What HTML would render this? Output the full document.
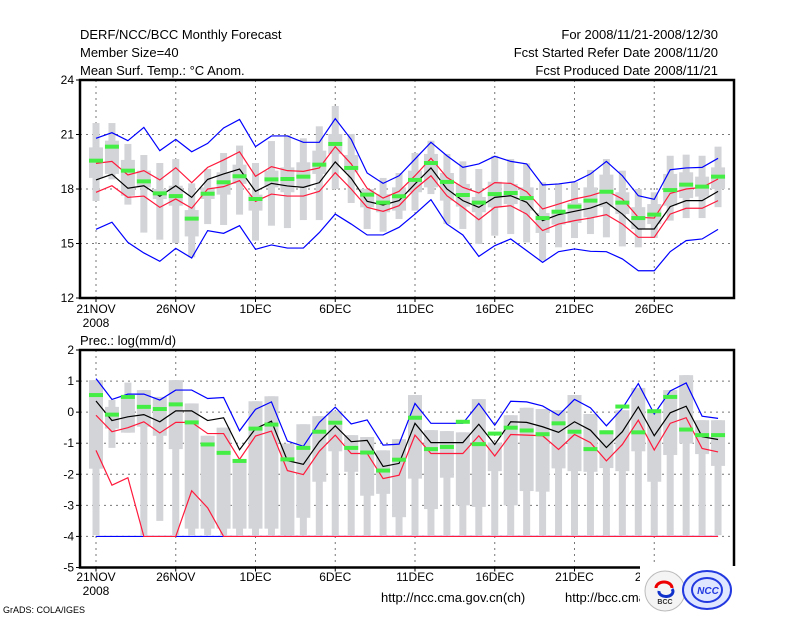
<!DOCTYPE html>
<html><head><meta charset="utf-8"><style>
body{margin:0;background:#fff;}
svg{display:block;font-family:"Liberation Sans",sans-serif;}
</style></head><body>
<svg id="chart" width="800" height="618" viewBox="0 0 800 618">
<g font-size="13" fill="#000">
<text x="80" y="39">DERF/NCC/BCC Monthly Forecast</text>
<text x="80" y="57">Member Size=40</text>
<text x="80" y="75">Mean Surf. Temp.: °C Anom.</text>
<text x="718" y="39" text-anchor="end">For 2008/11/21-2008/12/30</text>
<text x="718" y="57" text-anchor="end">Fcst Started Refer Date 2008/11/20</text>
<text x="718" y="75" text-anchor="end">Fcst Produced Date 2008/11/21</text>
<text x="80" y="345">Prec.: log(mm/d)</text>
</g>
<g id="plots"></g>
<g>
<text x="381" y="602" font-size="13">http://ncc.cma.gov.cn(ch)</text>
<text x="565" y="602" font-size="13">http://bcc.cma.gov.cn</text>
<text x="3" y="613" font-size="9">GrADS: COLA/IGES</text>
<rect x="640" y="566" width="100" height="52" fill="#fff"/>
<g>
<circle cx="665" cy="591" r="20" fill="#f4f4f4" stroke="#bbb"/>
<path d="M656 588 a8 6 0 1 1 16 0" fill="none" stroke="#e00" stroke-width="3"/>
<path d="M659 591 a7 5 0 1 0 13 -2" fill="none" stroke="#13c" stroke-width="3"/>
<text x="665" y="604" font-size="7" font-weight="bold" text-anchor="middle" fill="#333">BCC</text>
</g>
<g>
<ellipse cx="707" cy="590" rx="24" ry="19" fill="#dfe6ff" stroke="#2239e0" stroke-width="2"/>
<ellipse cx="707" cy="590" rx="15" ry="12" fill="none" stroke="#2239e0" stroke-width="2"/>
<text x="708" y="594" font-size="10" font-style="italic" font-weight="bold" text-anchor="middle" fill="#2239e0">NCC</text>
</g>
</g>
</svg>
<script>
// ---- Temperature panel data (°C anomaly), 40 days from 21 Nov ----
const days = ["21NOV","26NOV","1DEC","6DEC","11DEC","16DEC","21DEC","26DEC"];
const tBlueHi = [20.79,21.1,20.66,21.39,20.11,20.73,20.05,20.51,21.36,21.83,20.33,20.92,20.92,20.57,20.57,21.87,20.73,18.88,18.31,18.73,19.65,20.57,19.83,19.19,19.38,19.80,19.52,19.38,18.22,18.28,18.40,18.83,19.52,18.73,17.63,17.43,19.06,19.16,19.19,19.69];
const tRedHi = [19.41,19.52,18.77,19.01,18.50,19.17,18.35,19.19,19.60,20.05,18.70,19.23,19.01,18.97,19.16,20.33,19.38,18.04,17.50,17.87,18.73,19.69,18.64,18.09,17.78,18.35,18.31,17.85,16.90,17.17,17.45,17.63,17.91,17.45,16.44,16.40,17.76,18.0,18.09,18.55];
const tMean = [18.50,18.81,18.04,18.18,17.60,18.18,17.54,18.53,18.83,19.10,17.87,18.31,18.17,18.09,18.35,19.49,18.59,17.32,17.12,17.36,18.28,19.16,18.0,17.36,16.99,17.54,17.63,17.27,16.26,16.59,16.77,16.95,17.27,16.62,15.80,15.80,17.03,17.36,17.36,17.87];
const tRedLo = [17.82,18.18,17.54,17.61,16.99,17.45,16.94,18.0,18.13,18.46,17.32,17.72,17.61,17.61,17.87,18.90,18.0,16.99,16.77,17.08,18.0,18.73,17.63,16.99,16.31,16.99,17.08,16.62,15.71,16.07,16.26,16.40,16.59,16.07,15.34,15.34,16.62,16.94,16.94,17.36];
const tBlueLo = [15.78,16.17,15.06,14.48,14.02,14.73,14.20,15.71,15.56,15.98,14.68,14.92,14.75,14.75,15.60,16.62,16.07,15.47,15.47,15.89,16.62,17.41,16.07,15.47,14.29,14.88,15.25,14.61,13.96,14.55,14.70,14.57,14.55,14.15,13.50,13.50,14.55,15.16,15.25,15.78];
const tGreen = [19.56,20.33,19.01,18.42,17.76,17.61,16.37,17.74,18.37,18.70,17.45,18.53,18.55,18.68,19.34,20.48,19.16,17.69,17.25,17.60,18.50,19.43,18.39,17.67,17.25,17.72,17.78,17.50,16.40,16.75,17.03,17.36,17.85,17.25,16.40,16.59,17.94,18.24,18.13,18.68];
const tMax = [21.63,21.63,20.48,19.87,19.43,19.65,18.31,19.10,19.98,20.39,19.43,20.64,20.97,20.79,21.45,22.57,21.03,18.0,18.61,18.88,19.98,20.66,19.93,19.52,19.10,19.83,19.65,19.41,18.37,18.31,18.37,19.05,19.65,19.01,18.0,17.82,19.83,19.89,19.83,20.33];
const tMin = [17.34,18.53,17.14,15.60,15.21,15.03,14.24,16.07,16.02,16.59,15.16,15.98,15.85,16.29,16.29,18.0,17.23,15.80,15.65,16.35,16.81,17.72,16.07,15.80,14.97,15.43,15.52,15.06,14.06,14.79,15.30,15.52,15.34,14.84,14.79,15.30,16.26,16.40,16.40,17.0];
const tQ3 = [20.29,20.66,19.60,19.01,18.0,18.18,16.84,18.09,18.92,19.34,17.69,19.01,19.19,19.47,20.11,21.03,19.87,18.0,17.72,18.09,19.01,19.93,18.88,18.28,17.56,18.40,18.28,18.09,16.68,16.77,17.23,18.09,18.79,17.82,17.0,17.17,18.83,18.92,18.68,19.19];
const tQ1 = [18.61,18.83,17.63,18.09,17.45,17.08,15.39,17.45,17.69,18.28,16.81,18.09,17.82,18.09,18.83,19.93,18.92,16.99,16.72,16.81,17.82,18.09,17.36,17.03,16.72,16.99,17.17,16.81,15.58,16.04,16.13,16.44,17.0,16.62,15.8,16.07,17.08,17.50,17.58,18.0];
const tTicks = [12,15,18,21,24];
// ---- Precipitation panel data (log mm/d) ----
const pBlueHi = [1.08,0.41,0.58,0.58,0.39,0.71,0.71,0.44,0.47,-0.60,0.09,0.33,-0.93,-1.10,-0.33,0.16,-0.38,-0.25,-1.06,-1.03,0.28,-0.36,-0.36,-0.36,0.28,-0.42,0.35,0.33,0.20,-0.10,0.41,0.14,-0.44,0.12,0.92,-0.06,0.68,0.94,-0.13,-0.20];
const pRedHi = [-0.10,-0.63,-0.50,-0.31,-0.67,-0.33,-0.33,-0.69,-0.69,-1.52,-0.77,-0.61,-1.88,-2.01,-1.26,-0.74,-1.33,-1.33,-2.14,-2.03,-0.74,-1.33,-1.33,-1.33,-0.76,-1.41,-0.72,-0.74,-0.76,-1.20,-0.72,-0.98,-1.57,-1.04,-0.26,-1.22,-0.36,-0.18,-1.17,-1.28];
const pMean = [0.36,-0.27,-0.15,-0.08,-0.31,0.04,0.04,-0.27,-0.18,-1.21,-0.53,-0.29,-1.56,-1.68,-0.95,-0.44,-0.95,-0.91,-1.75,-1.65,-0.36,-0.98,-0.98,-0.98,-0.39,-1.04,-0.31,-0.33,-0.47,-0.65,-0.31,-0.58,-1.14,-0.63,0.17,-0.76,-0.02,0.19,-0.79,-0.88];
const pRedLo = [-1.23,-2.35,-2.11,-4,-4,-4,-2.53,-3.08,-4,-4,-4,-4,-4,-4,-4,-4,-4,-4,-4,-4,-4,-4,-4,-4,-4,-4,-4,-4,-4,-4,-4,-4,-4,-4,-4,-4,-4,-4,-4,-4];
const pBlueLo = [-4,-4,-4,-4,-4,-4,-4,-4,-4,-4,-4,-4,-4,-4,-4,-4,-4,-4,-4,-4,-4,-4,-4,-4,-4,-4,-4,-4,-4,-4,-4,-4,-4,-4,-4,-4,-4,-4,-4,-4];
const pGreen = [0.55,-0.08,0.49,0.17,0.10,0.25,-0.33,-1.04,-1.31,-1.57,-0.53,-0.40,-1.52,-1.15,-0.63,-0.34,-1.15,-1.30,-1.88,-1.53,-0.18,-1.19,-1.12,-0.31,-1.03,-0.69,-0.50,-0.59,-0.71,-0.36,-0.63,-1.19,-0.65,0.18,-0.65,0.03,0.49,-0.56,-0.74,-0.74];
const pMax = [1.03,0.39,0.95,0.71,0.49,1.03,0.28,-0.76,-0.50,-1.52,0.35,0.51,-1.01,-0.39,-0.13,0.03,-0.74,-0.80,-1.23,-0.87,0.55,-0.58,-0.61,-0.65,0.42,-0.98,-0.10,0.14,0.10,0.06,0.55,-0.06,-0.58,0.06,0.78,0.06,0.71,1.19,-0.26,-0.26];
const pMin = [-3.96,-1.15,-0.66,-3.96,-3.50,-3.96,-3.96,-3.96,-3.96,-3.96,-3.96,-3.96,-3.96,-3.96,-3.96,-3.96,-3.96,-3.96,-3.96,-3.96,-3.96,-3.96,-3.96,-3.96,-3.96,-3.96,-3.96,-3.96,-3.96,-3.96,-3.96,-3.96,-3.96,-3.96,-3.96,-3.96,-3.96,-3.96,-3.96,-3.96];
const pQ3 = [1.03,0.17,0.55,0.71,0.49,1.03,0.28,-0.76,-0.50,-1.52,0.35,0.51,-1.01,-0.39,-0.13,0.03,-0.74,-0.80,-1.23,-0.87,0.55,-0.58,-0.61,-0.65,0.42,-0.98,-0.10,0.14,0.10,0.06,0.55,-0.06,-0.58,0.06,0.78,0.06,0.71,1.19,-0.26,-0.26];
const pQ1 = [-1.82,-0.53,-0.66,-0.47,-0.76,-1.19,-3.75,-3.75,-3.75,-3.75,-3.75,-3.75,-3.96,-3.40,-2.24,-1.26,-1.92,-2.69,-2.63,-3.38,-2.14,-3.12,-2.11,-3.0,-3.05,-1.90,-3.0,-2.54,-2.56,-1.81,-1.90,-1.92,-1.8,-1.90,-1.26,-2.24,-1.38,-1.01,-1.35,-1.73];
const pTicks = [-5,-4,-3,-2,-1,0,1,2];

const NS='http://www.w3.org/2000/svg';
const root=document.getElementById('plots');
const X0=80, X1=734, DAY0=96, DX=15.95;
function xOf(d){return DAY0+d*DX;}
function mk(tag,attrs,parent){const e=document.createElementNS(NS,tag);for(const k in attrs)e.setAttribute(k,attrs[k]);(parent||root).appendChild(e);return e;}

function panel(name,top,bot,vmin,vmax,ticks,s,dateY,yearLabel){
  const g=mk('g',{});
  
  
  const yOf=v=>bot-(v-vmin)/(vmax-vmin)*(bot-top);
  // gridlines
  ticks.forEach(t=>{
    if(t===vmin||t===vmax) return;
    const l=mk('line',{x1:X0,x2:X1,y1:yOf(t),y2:yOf(t),stroke:'#777','stroke-dasharray':'2,4','stroke-width':1},g);
    
    
  });
  days.forEach((lab,i)=>{
    const x=xOf(i*5);
    const l=mk('line',{x1:x,x2:x,y1:top,y2:bot,stroke:'#777','stroke-dasharray':'2,4','stroke-width':1},g);
    
    
    const t=mk('text',{x:x,y:dateY,'font-size':12,'text-anchor':'middle'},g);
    t.textContent=lab;
    
    
    const tk=mk('line',{x1:x,x2:x,y1:bot,y2:bot+4,stroke:'#000'},g);
    
    
  });
  if(yearLabel){
    const t=mk('text',{x:xOf(0),y:dateY+14,'font-size':12,'text-anchor':'middle'},g);
    t.textContent=yearLabel;
    
    
  }
  ticks.forEach(t=>{
    const l=mk('text',{x:74,y:yOf(t)+4,'font-size':12,'text-anchor':'end'},g);
    l.textContent=t;
    
    
    const tk=mk('line',{x1:76,x2:80,y1:yOf(t),y2:yOf(t),stroke:'#000'},g);
    
    
  });
  // boxes
  for(let i=0;i<s.max.length;i++){
    const x=xOf(i);
    const w=mk('rect',{x:x-3.5,y:yOf(s.max[i]),width:7,height:yOf(s.min[i])-yOf(s.max[i]),fill:'#d3d4d8'},g);
    
    
    const b=mk('rect',{x:x-7,y:yOf(s.q3[i]),width:14,height:yOf(s.q1[i])-yOf(s.q3[i]),fill:'#d3d4d8'},g);
    
    
  }
  const line=(arr,col,nm)=>{
    const p=mk('polyline',{points:arr.map((v,i)=>xOf(i)+','+yOf(v)).join(' '),fill:'none',stroke:col,'stroke-width':1.2},g);
    
    
  };
  line(s.blueLo,'#0000ff','lower-extreme-line');
  line(s.blueHi,'#0000ff','upper-extreme-line');
  line(s.redHi,'#ff1a3c','upper-spread-line');
  line(s.redLo,'#ff1a3c','lower-spread-line');
  line(s.mean,'#000','ensemble-mean-line');
  for(let i=0;i<s.green.length;i++){
    const m=mk('rect',{x:xOf(i)-7,y:yOf(s.green[i])-2,width:14,height:4,fill:'#44ee44'},g);
    
    
  }
  const f=mk('rect',{x:X0,y:top,width:X1-X0,height:bot-top,fill:'none',stroke:'#000','stroke-width':2.5},g);
  
  
}
panel('temperature-panel',80,298,12,24,tTicks,{max:tMax,min:tMin,q3:tQ3,q1:tQ1,blueHi:tBlueHi,redHi:tRedHi,mean:tMean,redLo:tRedLo,blueLo:tBlueLo,green:tGreen},313,'2008');
panel('precipitation-panel',350,567.5,-5,2,pTicks,{max:pMax,min:pMin,q3:pQ3,q1:pQ1,blueHi:pBlueHi,redHi:pRedHi,mean:pMean,redLo:pRedLo,blueLo:pBlueLo,green:pGreen},581,'2008');
</script>
</body></html>
